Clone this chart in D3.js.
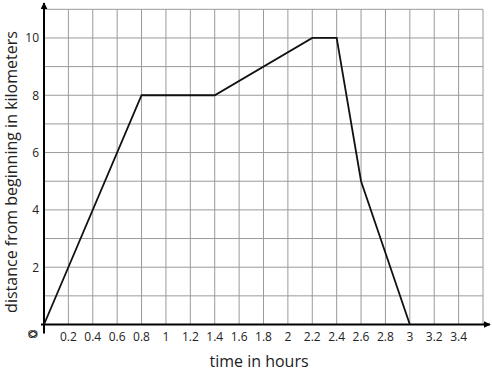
<!DOCTYPE html>
<html>
<head>
<meta charset="utf-8">
<script src="https://cdn.jsdelivr.net/npm/d3@7"></script>
<style>
  body { margin: 0; background: #fff; }
  text { font-family: "Open Sans", sans-serif; fill: #222; }
</style>
</head>
<body>
<div id="chart"></div>
<script>
// dữ liệu
const times = [0, 0.8, 1.4, 2.2, 2.4, 2.6, 3];
const distances = [0, 8, 8, 10, 10, 5, 0];
const xTickValues = [0.2, 0.4, 0.6, 0.8, 1, 1.2, 1.4, 1.6, 1.8, 2, 2.2, 2.4, 2.6, 2.8, 3, 3.2, 3.4];
const yTickValues = [2, 4, 6, 8, 10];

const points = times.map((t, i) => ({ t: t, d: distances[i] }));

const svg = d3.select("#chart").append("svg")
    .attr("width", 492)
    .attr("height", 373);

// tỷ lệ
const x = d3.scaleLinear().domain([0, 3.6]).range([44, 483]);
const y = d3.scaleLinear().domain([0, 11]).range([324.5, 9.3]);

// lưới
const grid = svg.append("g");
grid.selectAll("line.v")
    .data(d3.range(1, 19).map(i => i * 0.2))
    .enter().append("line")
    .attr("x1", d => x(d)).attr("x2", d => x(d))
    .attr("y1", y(0)).attr("y2", y(11))
    .attr("stroke", "#9a9a9a").attr("stroke-width", 1);
grid.selectAll("line.h")
    .data(d3.range(1, 12))
    .enter().append("line")
    .attr("x1", x(0)).attr("x2", x(3.6))
    .attr("y1", d => y(d)).attr("y2", d => y(d))
    .attr("stroke", "#9a9a9a").attr("stroke-width", 1);

// trục
svg.append("defs").append("marker")
    .attr("id", "arrow")
    .attr("viewBox", "0 0 10 10")
    .attr("refX", 9).attr("refY", 5)
    .attr("markerWidth", 7).attr("markerHeight", 7)
    .attr("markerUnits", "userSpaceOnUse")
    .attr("orient", "auto")
    .append("path").attr("d", "M0,0 L10,5 L0,10 z").attr("fill", "#000");

svg.append("line")
    .attr("x1", x(0) - 3).attr("x2", 490)
    .attr("y1", y(0)).attr("y2", y(0))
    .attr("stroke", "#000").attr("stroke-width", 2)
    .attr("marker-end", "url(#arrow)");
svg.append("line")
    .attr("x1", x(0)).attr("x2", x(0))
    .attr("y1", y(0) + 9).attr("y2", 3)
    .attr("stroke", "#000").attr("stroke-width", 2)
    .attr("marker-end", "url(#arrow)");

// nhãn trục x
svg.selectAll("text.xt")
    .data(xTickValues)
    .enter().append("text")
    .attr("class", "xt")
    .attr("x", d => x(d))
    .attr("y", 341)
    .attr("text-anchor", "middle")
    .style("font-size", "12px")
    .text(d => d3.format("~g")(d));

// nhãn trục y
svg.selectAll("text.yt")
    .data(yTickValues)
    .enter().append("text")
    .attr("class", "yt")
    .attr("x", 39)
    .attr("y", d => y(d) + 4.5)
    .attr("text-anchor", "end")
    .style("font-size", "12px")
    .text(d => d);

// số 0 ở gốc (hai số chồng lên nhau)
svg.append("text")
    .attr("transform", "translate(33,334) rotate(-60)")
    .attr("text-anchor", "middle")
    .attr("dy", "0.35em")
    .style("font-size", "13px")
    .text("0");
svg.append("text")
    .attr("transform", "translate(33,334) rotate(-120)")
    .attr("text-anchor", "middle")
    .attr("dy", "0.35em")
    .style("font-size", "13px")
    .text("0");

// đường
const line = d3.line()
    .x(d => x(d.t))
    .y(d => y(d.d));

svg.append("path")
    .datum(points)
    .attr("fill", "none")
    .attr("stroke", "#111")
    .attr("stroke-width", 1.8)
    .attr("stroke-linejoin", "miter")
    .attr("d", line);

// tiêu đề trục
svg.append("text")
    .attr("x", 259)
    .attr("y", 367)
    .attr("text-anchor", "middle")
    .style("font-size", "16px")
    .text("time in hours");

svg.append("text")
    .attr("transform", "translate(17,172) rotate(-90)")
    .attr("text-anchor", "middle")
    .style("font-size", "16px")
    .text("distance from beginning in kilometers");
</script>
</body>
</html>
